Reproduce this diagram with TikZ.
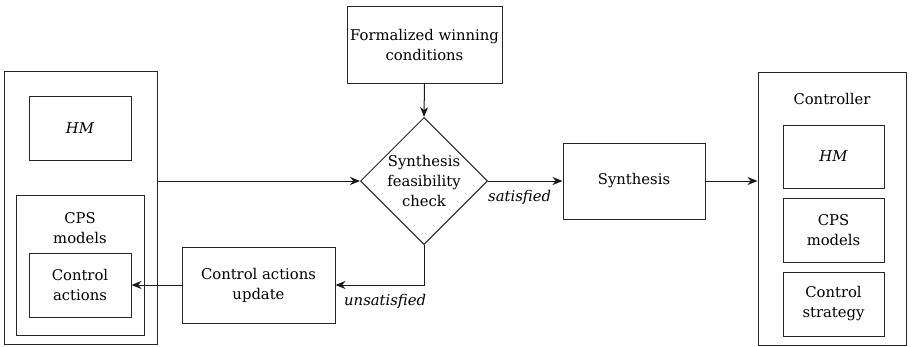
\documentclass[tikz,border=0pt]{standalone}
\usepackage{fontspec}
\setmainfont{DejaVu Serif}
\usetikzlibrary{shapes.geometric,arrows.meta}
\begin{document}
\begin{tikzpicture}[x=1pt,y=-1pt,
  every node/.style={font=\fontsize{14.8}{20}\selectfont, text=black},
  box/.style={draw=black!85, line width=1pt, rectangle, inner sep=0pt, align=center},
  lbl/.style={inner sep=0pt, align=center},
  arr/.style={draw=black!90, line width=1pt, -{Stealth[length=10pt,width=8pt]}},
  ln/.style={draw=black!90, line width=1pt}]
\useasboundingbox (0,0) rectangle (912,346);
% left group
\node[box, minimum width=153pt, minimum height=273pt] (lout) at (80.5,207.5) {};
\node[box, minimum width=102pt, minimum height=64pt] (hm1) at (80,128) {\itshape HM};
\node[box, minimum width=128pt, minimum height=140pt] (cps1) at (80,265) {};
\node[lbl] (cps1l) at (80,228) {CPS\\models};
\node[box, minimum width=102pt, minimum height=64pt] (ca1) at (80,285) {Control\\actions};
% middle
\node[box, minimum width=155pt, minimum height=77pt] (form) at (424.5,44.5) {Formalized winning\\conditions};
\node[draw=black!85, line width=1pt, diamond, minimum width=127pt, minimum height=127pt, inner sep=0pt, align=center] (dia) at (424,181) {Synthesis\\feasibility\\check};
\node[box, minimum width=142pt, minimum height=76pt] (syn) at (634,181) {Synthesis};
\node[box, minimum width=153pt, minimum height=76pt] (upd) at (258.5,285) {Control actions\\update};
% right group
\node[box, minimum width=148pt, minimum height=273pt] (rout) at (832,208.5) {};
\node[lbl] (ctrll) at (832,99) {Controller};
\node[box, minimum width=101pt, minimum height=63pt] (hm2) at (833.5,156.5) {\itshape HM};
\node[box, minimum width=101pt, minimum height=64pt] (cps2) at (833.5,230) {CPS\\models};
\node[box, minimum width=101pt, minimum height=64pt] (cs2) at (833.5,304) {Control\\strategy};
% connectors
\draw[arr] (lout.east |- dia.west) -- (dia.west);
\draw[arr] (form.south) -- (dia.north);
\draw[arr] (dia.east) -- (syn.west);
\node[lbl, anchor=west] (sat) at (488,197) {\itshape satisfied};
\draw[arr] (syn.east) -- (rout.west |- syn.east);
\draw[arr] (dia.south) |- (upd.east);
\node[lbl, anchor=west] (unsat) at (344,301) {\itshape unsatisfied};
\draw[arr] (upd.west) -- (ca1.east);
\end{tikzpicture}
\end{document}
